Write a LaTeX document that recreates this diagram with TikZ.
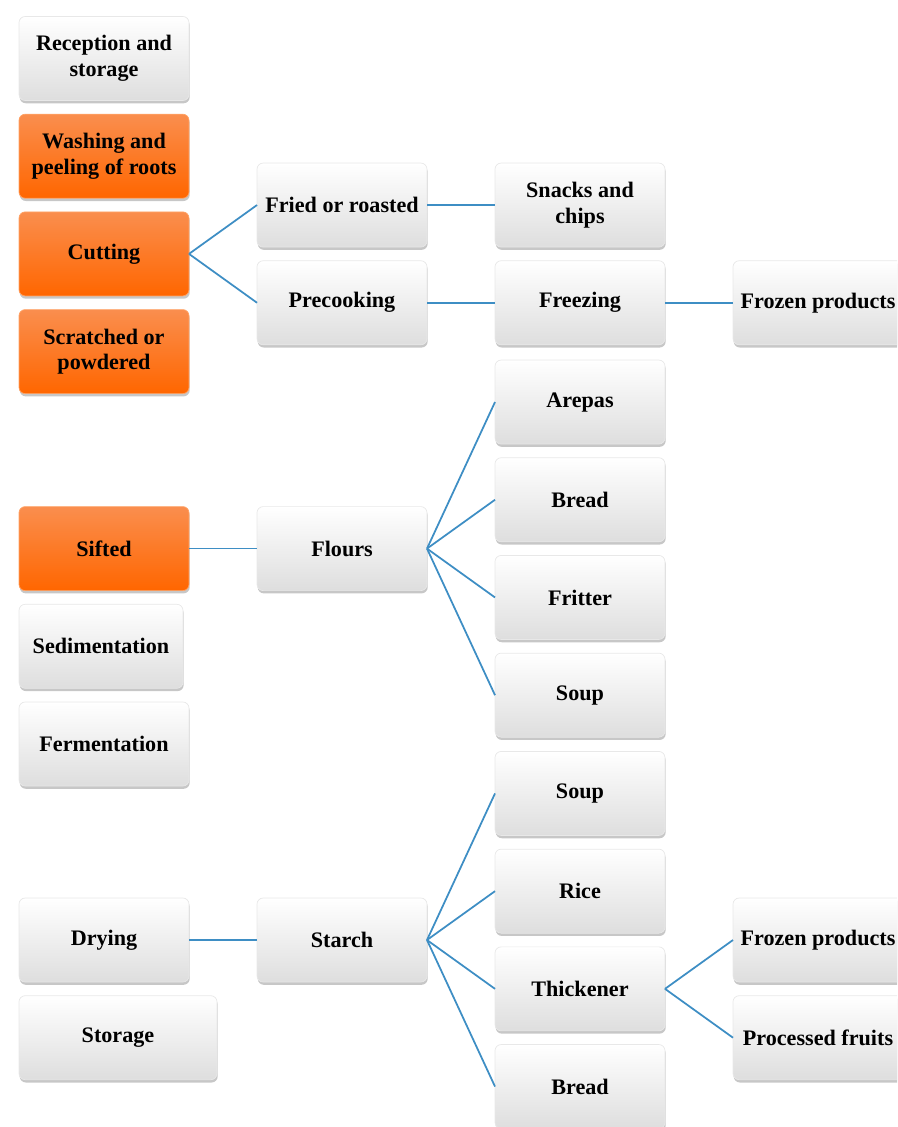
\documentclass[tikz,border=0pt]{standalone}
\usepackage{fontspec}
\setmainfont{Liberation Serif}
\usepackage{xcolor}
\usepackage{tikz}
\usetikzlibrary{positioning,shadows}

\definecolor{linkblue}{RGB}{62,142,196}
\definecolor{orangetop}{RGB}{250,142,78}
\definecolor{orangebot}{RGB}{255,102,0}

\begin{document}
\begin{tikzpicture}[
  node distance=0.274cm and 1.36cm,
  box/.style={rounded corners=3.5pt, align=center, font=\fontsize{12.6}{14.5}\selectfont\bfseries,
    minimum width=3.4cm, minimum height=1.68cm, inner sep=2pt, outer sep=0pt,
    draw=black!9, line width=0.4pt,
    top color=white, middle color=white, bottom color=black!13,
    drop shadow={shadow xshift=0.4pt, shadow yshift=-1.6pt, opacity=0.4, fill=black!55}},
  hot/.style={box, draw=orangebot!60, top color=orangetop, middle color=orangebot!85!orangetop, bottom color=orangebot},
  link/.style={draw=linkblue, line width=1pt}
]
\useasboundingbox (0,0) rectangle (17.94,-22.54);
\clip (0,0) rectangle (17.94,-22.54);

\node[box] (rec) at (2.08,-1.17) {Reception and\\ storage};
\node[hot, below=of rec] (wash) {Washing and\\ peeling of roots};
\node[hot, below=of wash] (cut) {Cutting};
\node[hot, below=of cut] (scr) {Scratched or\\ powdered};
\node[hot, below=2.26cm of scr] (sift) {Sifted};
\node[box, minimum width=3.28cm, below right=0.274cm and 0cm of sift.south west] (sed) {Sedimentation};
\node[box, below right=0.274cm and 0cm of sed.south west] (ferm) {Fermentation};
\node[box, below right=2.24cm and 0cm of ferm.south west] (dry) {Drying};
\node[box, minimum width=3.96cm, below right=0.274cm and 0cm of dry.south west] (stor) {Storage};

\node[box, above right=0.137cm and 1.36cm of cut.east] (fried) {Fried or roasted};
\node[box, below=of fried] (pre) {Precooking};
\node[box, right=of fried] (snack) {Snacks and\\ chips};
\node[box, right=of pre] (freeze) {Freezing};
\node[box, right=of freeze] (frozA) {Frozen products};

\node[box, right=of sift] (flour) {Flours};
\node[box, above right=0.137cm and 1.36cm of flour.east] (breadA) {Bread};
\node[box, above=of breadA] (arepa) {Arepas};
\node[box, below=of breadA] (fritter) {Fritter};
\node[box, below=of fritter] (soupA) {Soup};

\node[box, right=of dry] (starch) {Starch};
\node[box, above right=0.137cm and 1.36cm of starch.east] (rice) {Rice};
\node[box, above=of rice] (soupB) {Soup};
\node[box, below=of rice] (thick) {Thickener};
\node[box, below=of thick] (breadB) {Bread};
\node[box, above right=0.137cm and 1.36cm of thick.east] (frozB) {Frozen products};
\node[box, below=of frozB] (proc) {Processed fruits};

\draw[link] (cut.east) -- (fried.west);
\draw[link] (cut.east) -- (pre.west);
\draw[link] (fried) -- (snack);
\draw[link] (pre) -- (freeze);
\draw[link] (freeze) -- (frozA);
\draw[link] (sift) -- (flour);
\foreach \n in {arepa,breadA,fritter,soupA}
  \draw[link] (flour.east) -- (\n.west);
\draw[link] (dry) -- (starch);
\foreach \n in {soupB,rice,thick,breadB}
  \draw[link] (starch.east) -- (\n.west);
\draw[link] (thick.east) -- (frozB.west);
\draw[link] (thick.east) -- (proc.west);
\end{tikzpicture}
\end{document}
